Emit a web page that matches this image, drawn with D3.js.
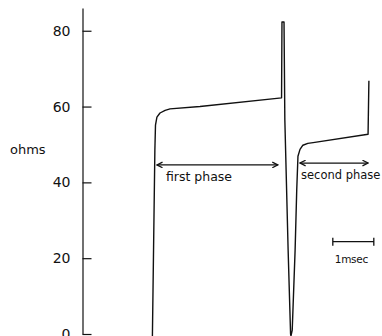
<!DOCTYPE html>
<html>
<head>
<meta charset="utf-8">
<script src="https://cdn.jsdelivr.net/npm/d3@7"></script>
<style>
  body { margin: 0; background: #fff; }
  svg { display: block; font-family: "DejaVu Sans", sans-serif; }
</style>
</head>
<body>
<div id="chart"></div>
<script>
// trace: time (msec) and impedance (ohms)
var traceTime = [0.01, 0.07, 0.085, 0.12, 0.195, 0.32, 0.44, 1.17, 3.16, 3.17, 3.22, 3.24, 3.32, 3.38, 3.39, 3.42, 3.49, 3.53, 3.56, 3.61, 3.68, 3.80, 3.93, 5.27, 5.29];
var traceOhms = [-0.5, 48.5, 55.1, 57.2, 58.3, 59.0, 59.4, 60.0, 62.3, 82.3, 82.3, 56.5, 22.2, 0, -0.5, 1, 22, 38, 46.9, 48.7, 49.8, 50.3, 50.5, 52.7, 66.8];

var yTicks = [0, 20, 40, 60, 80];
var yLabel = "ohms";

// phase arrows: [start, end] in msec, at a given ohm level
var phaseNames = ["first phase", "second phase"];
var phaseStart = [0.12, 3.61];
var phaseEnd = [3.07, 5.27];
var phaseLevel = [44.6, 45.1];

var scaleBarStart = 4.41;
var scaleBarLen = 1;
var scaleBarText = "1msec";

var svgWidth = 382;
var svgHeight = 336;

var svg = d3.select("#chart")
  .append("svg")
  .attr("width", svgWidth)
  .attr("height", svgHeight);

var x = d3.scaleLinear()
  .domain([0, 5.6])
  .range([152, 152 + 5.6 * 41]);

var y = d3.scaleLinear()
  .domain([0, 86])
  .range([334, 8]);

// y axis: ticks point inward, labels on the left
var axisX = 82.5;
var leftAxis = d3.axisLeft(y)
  .tickValues(yTicks)
  .tickSizeInner(-9)
  .tickSizeOuter(0)
  .tickPadding(12);

var axisG = svg.append("g")
  .attr("transform", `translate(${axisX}, 0)`)
  .call(leftAxis);

axisG.select(".domain").attr("stroke", "#111").attr("stroke-width", 1.2);
axisG.selectAll(".tick line").attr("stroke", "#111").attr("stroke-width", 1.2);
axisG.selectAll(".tick text")
  .attr("font-size", 14)
  .attr("font-family", "DejaVu Sans, sans-serif")
  .attr("fill", "#111");

svg.append("text")
  .attr("x", 10)
  .attr("y", 149)
  .attr("dy", "0.35em")
  .attr("font-size", 13)
  .attr("fill", "#111")
  .text(yLabel);

// the trace
var line = d3.line()
  .x(d => x(d[0]))
  .y(d => y(d[1]));

svg.append("path")
  .datum(d3.zip(traceTime, traceOhms))
  .attr("d", line)
  .attr("fill", "none")
  .attr("stroke", "#111")
  .attr("stroke-width", 1.4)
  .attr("stroke-linejoin", "round");

// arrow heads
var defs = svg.append("defs");
defs.append("marker")
  .attr("id", "head")
  .attr("viewBox", "0 0 10 10")
  .attr("refX", 9)
  .attr("refY", 5)
  .attr("markerWidth", 7)
  .attr("markerHeight", 7)
  .attr("markerUnits", "userSpaceOnUse")
  .attr("orient", "auto-start-reverse")
  .append("path")
  .attr("d", "M1,1 L9,5 L1,9")
  .attr("fill", "none")
  .attr("stroke", "#111")
  .attr("stroke-width", 1.8);

var phaseSize = [12.5, 11.5];
phaseNames.forEach(function(name, i) {
  svg.append("line")
    .attr("x1", x(phaseStart[i]))
    .attr("x2", x(phaseEnd[i]))
    .attr("y1", y(phaseLevel[i]))
    .attr("y2", y(phaseLevel[i]))
    .attr("stroke", "#111")
    .attr("stroke-width", 1.2)
    .attr("marker-start", "url(#head)")
    .attr("marker-end", "url(#head)");

  svg.append("text")
    .attr("x", x(phaseStart[i]) + (i === 0 ? 9 : 1))
    .attr("y", y(phaseLevel[i]) + 12)
    .attr("dy", "0.35em")
    .attr("font-size", phaseSize[i])
    .attr("fill", "#111")
    .text(name);
});

// 1 msec scale bar
var barY = 241.7;
var bx1 = x(scaleBarStart), bx2 = x(scaleBarStart + scaleBarLen);
svg.append("path")
  .attr("d", `M${bx1},${barY - 4}V${barY + 4}M${bx1},${barY}H${bx2}M${bx2},${barY - 4}V${barY + 4}`)
  .attr("fill", "none")
  .attr("stroke", "#111")
  .attr("stroke-width", 1.3);

svg.append("text")
  .attr("x", bx1 + 2)
  .attr("y", barY + 18)
  .attr("dy", "0.35em")
  .attr("font-size", 10.5)
  .attr("letter-spacing", -0.3)
  .attr("fill", "#111")
  .text(scaleBarText);
</script>
</body>
</html>
